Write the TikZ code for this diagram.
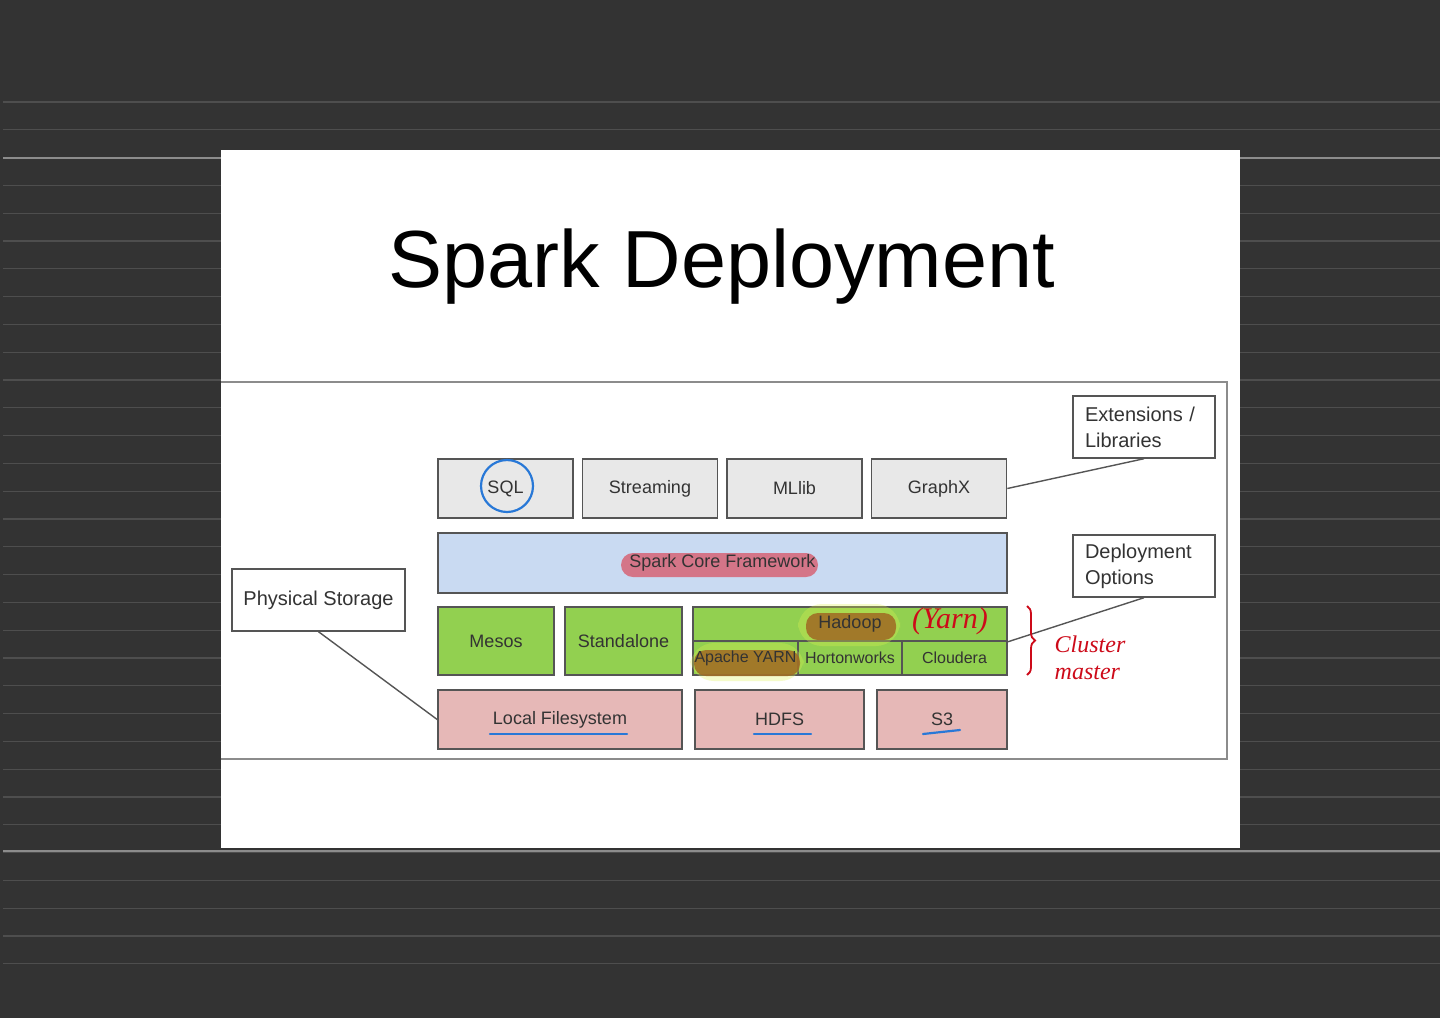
\documentclass[tikz,border=0pt]{standalone}
\usepackage{fontspec}
\setmainfont{Liberation Sans}
\newfontfamily\handfont{Liberation Serif}
\usetikzlibrary{positioning,decorations.pathreplacing}
\definecolor{boardgray}{RGB}{51,51,51}
\definecolor{ruleline}{RGB}{78,78,78}
\definecolor{rulebright}{RGB}{140,140,140}
\definecolor{framegray}{RGB}{140,140,140}
\definecolor{boxedge}{RGB}{85,85,85}
\definecolor{libgray}{RGB}{232,232,232}
\definecolor{coreblue}{RGB}{201,218,242}
\definecolor{deploygreen}{RGB}{146,208,80}
\definecolor{storepink}{RGB}{230,184,183}
\definecolor{labeltext}{RGB}{51,51,51}
\definecolor{penred}{RGB}{205,10,25}
\definecolor{penblue}{RGB}{40,120,215}
\definecolor{markred}{RGB}{214,100,118}
\definecolor{markbrown}{RGB}{160,105,35}
\definecolor{markyellow}{RGB}{225,242,80}
\tikzset{
    % layer boxes
    layerbox/.style={
        rectangle, draw=boxedge, line width=0.8pt, text=labeltext,
        font=\fontsize{9}{11}\selectfont, inner sep=0pt
    },
    libbox/.style={layerbox, fill=libgray,
        minimum width=67.5pt, minimum height=29.5pt},
    corebox/.style={layerbox, fill=coreblue,
        minimum width=284.5pt, minimum height=30pt},
    deploybox/.style={layerbox, fill=deploygreen,
        minimum height=34pt},
    hadoopcell/.style={layerbox, fill=deploygreen,
        minimum height=17pt, font=\fontsize{8}{10}\selectfont},
    storebox/.style={layerbox, fill=storepink,
        minimum height=29.5pt},
    boxlabel/.style={text=labeltext, inner sep=0pt},
    % side notes
    notebox/.style={
        rectangle, draw=boxedge, line width=0.7pt, fill=white,
        text=labeltext, font=\fontsize{10}{13}\selectfont
    },
    link/.style={line width=0.7pt, color=boxedge},
    % pen annotations
    pen/.style={line width=1.1pt, color=penblue, line cap=round},
    marker/.style={rounded corners=6pt}
}
\begin{document}
\begin{tikzpicture}[x=0.5pt, y=-0.5pt]
\useasboundingbox (0,0) rectangle (1440,1018);

% board and ruled lines
\fill[boardgray] (0,0) rectangle (1440,1018);
\foreach \k in {0,...,31}
    \draw[ruleline, line width=0.6pt] (3,{102+27.8*\k}) -- (1440,{102+27.8*\k});
\draw[rulebright, line width=0.7pt] (3,158) -- (1440,158);
\draw[rulebright, line width=0.7pt] (3,851) -- (1440,851);

% slide
\fill[white] (221,150) rectangle (1240,848);
\draw[framegray, line width=0.6pt] (221,382) -- (1227,382) -- (1227,759) -- (221,759);

\node (title) at (722,267) {\fontsize{40.5}{48}\selectfont Spark Deployment};

% libraries
\node[libbox] (sql) at (505.5,488.5) {SQL};
\node[libbox] (streaming) at (650,488.5) {Streaming};
\node[libbox] (mllib) at (794.5,488.5) {MLlib};
\node[libbox] (graphx) at (939,488.5) {GraphX};

% core
\node[corebox] (core) at (722.5,563) {};

% cluster managers
\node[deploybox, minimum width=58pt] (mesos) at (496,641) {Mesos};
\node[deploybox, minimum width=58.5pt] (standalone) at (623.5,641) {Standalone};
\node[hadoopcell, minimum width=157pt] (hadoop) at (850,624) {};
\node[hadoopcell, minimum width=52.5pt] (yarn) at (745.5,658) {};
\node[hadoopcell, minimum width=52pt] (hortonworks) at (850,658) {Hortonworks};
\node[hadoopcell, minimum width=52.5pt] (cloudera) at (954.5,658) {Cloudera};

% storage
\node[storebox, minimum width=122pt] (localfs) at (560,719.5) {Local Filesystem};
\node[storebox, minimum width=84.5pt] (hdfs) at (779.5,719.5) {HDFS};
\node[storebox, minimum width=65pt] (s3) at (942,719.5) {S3};

% side notes
\node[notebox, minimum width=86.5pt, minimum height=31pt] (physical) at (318.5,600) {Physical Storage};
\node[notebox, text width=59pt, inner xsep=6pt, minimum height=31pt, align=left] (extensions) at (1144,427) {Extensions /\\Libraries};
\node[notebox, text width=59pt, inner xsep=6pt, minimum height=31pt, align=left] (deployment) at (1144,566) {Deployment\\Options};

\draw[link] (physical.south) -- (localfs.west);
\draw[link] (extensions.south) -- (graphx.east);
\draw[link] (deployment.south) -- (hadoop.south east);

% highlighter marks
\fill[markred, opacity=0.85, marker] (621,553) rectangle (818,577);
\fill[markyellow, opacity=0.3, rounded corners=12pt] (798,604) rectangle (900,646);
\fill[markyellow, opacity=0.3, rounded corners=12pt] (690,643) rectangle (804,681);
\fill[markbrown, opacity=0.85, marker] (806,613) rectangle (896,640);
\fill[markbrown, opacity=0.85, marker] (694,650) rectangle (800,676);

% labels over the marks
\node[boxlabel, font=\fontsize{9}{11}\selectfont] (corelabel) at (core) {Spark Core Framework};
\node[boxlabel, font=\fontsize{9}{11}\selectfont] (hadooplabel) at (hadoop) {Hadoop};
\node[boxlabel, font=\fontsize{8}{10}\selectfont] (yarnlabel) at (yarn) {Apache YARN};

% pen marks
\draw[pen] (507,486) circle (13pt);
\draw[pen] (490,734) -- (627,734);
\draw[pen] (754,734) -- (811,734);
\draw[pen] (923,734) -- (960,730);

\node[text=penred, font=\handfont\itshape\fontsize{15}{17}\selectfont] (yarnnote) at (950,621) {(Yarn)};
\draw[penred, line width=0.9pt, decorate, decoration={brace, amplitude=4pt}] (1027,606) -- (1027,675);
\node[text=penred, font=\handfont\itshape\fontsize{12}{13.5}\selectfont, align=left] (clusternote) at (1090,658) {Cluster\\master};

\end{tikzpicture}
\end{document}
